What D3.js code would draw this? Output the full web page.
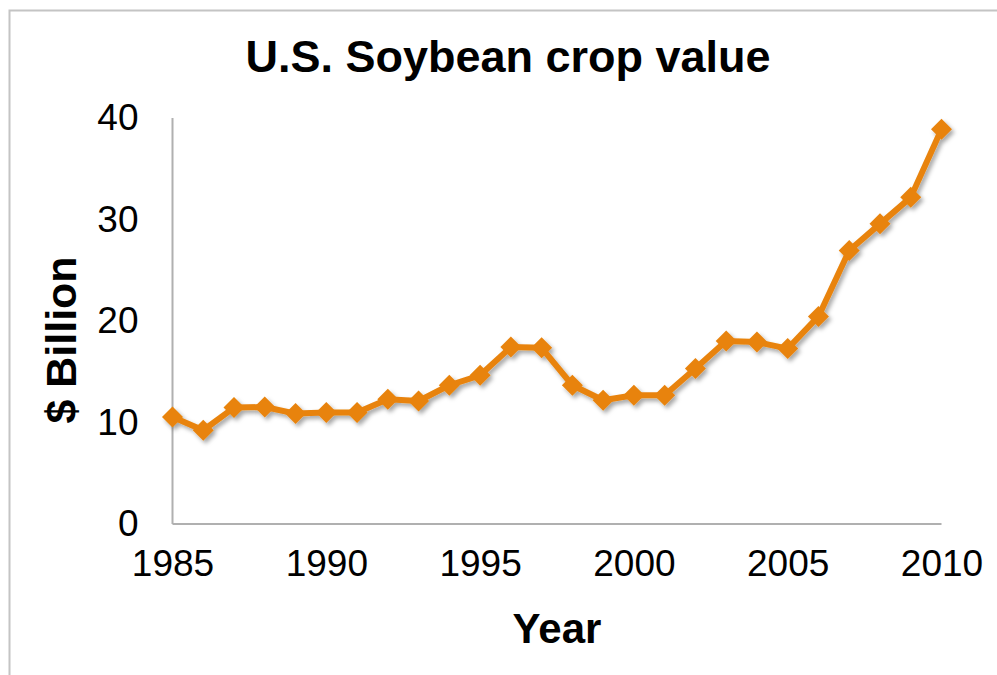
<!DOCTYPE html>
<html>
<head>
<meta charset="utf-8">
<script src="https://cdn.jsdelivr.net/npm/d3@7/dist/d3.min.js"></script>
<style>
  html, body { margin: 0; padding: 0; background: #fff; }
  svg { display: block; }
  text { font-family: "Liberation Sans", Arial, Helvetica, sans-serif; fill: #000; }
</style>
</head>
<body>
<svg id="chart" width="997" height="675"></svg>
<script>
// Soybean crop value, billions of dollars, by year
const years = [1985, 1986, 1987, 1988, 1989, 1990, 1991, 1992, 1993, 1994, 1995, 1996, 1997,
               1998, 1999, 2000, 2001, 2002, 2003, 2004, 2005, 2006, 2007, 2008, 2009, 2010];
const values = [10.55, 9.24, 11.47, 11.53, 10.88, 10.98, 10.98, 12.29, 12.12, 13.67, 14.65, 17.43, 17.36,
                13.67, 12.19, 12.68, 12.68, 15.31, 18.02, 17.92, 17.28, 20.45, 26.94, 29.57, 32.18, 38.9];
const xTicks = [1985, 1990, 1995, 2000, 2005, 2010];
const yTicks = [0, 10, 20, 30, 40];

const svg = d3.select("#chart");
const orange = "#E8830B";

// outer frame (top and left edges visible)
svg.append("path")
  .attr("d", "M9.5,675 L9.5,10.5 L997,10.5")
  .attr("fill", "none")
  .attr("stroke", "#c4c4c4")
  .attr("stroke-width", 2);

const x = d3.scaleLinear().domain([1985, 2010]).range([172.5, 941.5]);
const y = d3.scaleLinear().domain([0, 40]).range([524, 118]);

// drop shadow for the series
const defs = svg.append("defs");
const f = defs.append("filter").attr("id", "shadow")
  .attr("x", "-20%").attr("y", "-20%").attr("width", "140%").attr("height", "140%");
f.append("feDropShadow")
  .attr("dx", 2.5).attr("dy", 3).attr("stdDeviation", 2)
  .attr("flood-color", "#000").attr("flood-opacity", 0.35);

// axes
const xAxis = d3.axisBottom(x).tickValues(xTicks).tickFormat(d3.format("d")).tickSize(0).tickPadding(26);
const gx = svg.append("g").attr("transform", `translate(0,${y(0)})`).call(xAxis);
gx.select(".domain").attr("stroke", "#b0b0b0").attr("stroke-width", 2).attr("d", `M${x(1985)},0H${x(2010)}`);
gx.selectAll("text").attr("font-size", 37).attr("fill", "#000")
  .attr("font-family", "'Liberation Sans', Arial, sans-serif");

const yAxis = d3.axisLeft(y).tickValues(yTicks).tickSize(0).tickPadding(34);
const gy = svg.append("g").attr("transform", `translate(${x(1985)},0)`).call(yAxis);
gy.select(".domain").attr("stroke", "#b0b0b0").attr("stroke-width", 2).attr("d", `M0,${y(40)}V${y(0)}`);
gy.selectAll("text").attr("font-size", 37).attr("fill", "#000")
  .attr("font-family", "'Liberation Sans', Arial, sans-serif");

// series line and diamond markers
const data = years.map((yr, i) => ({ yr, v: values[i] }));
const series = svg.append("g").attr("filter", "url(#shadow)");
series.append("path")
  .datum(data)
  .attr("fill", "none")
  .attr("stroke", orange)
  .attr("stroke-width", 6)
  .attr("stroke-linejoin", "round")
  .attr("d", d3.line().x(d => x(d.yr)).y(d => y(d.v)));
const r = 10.5;
series.selectAll("path.marker")
  .data(data)
  .join("path")
  .attr("class", "marker")
  .attr("fill", orange)
  .attr("d", d => {
    const cx = x(d.yr), cy = y(d.v);
    return `M${cx},${cy - r}L${cx + r},${cy}L${cx},${cy + r}L${cx - r},${cy}Z`;
  });

// titles
svg.append("text")
  .attr("x", 508).attr("y", 72)
  .attr("text-anchor", "middle")
  .attr("font-size", 45).attr("font-weight", "bold")
  .text("U.S. Soybean crop value");

svg.append("text")
  .attr("x", 557).attr("y", 643)
  .attr("text-anchor", "middle")
  .attr("font-size", 42).attr("font-weight", "bold")
  .text("Year");

svg.append("text")
  .attr("transform", "translate(76,340) rotate(-90)")
  .attr("text-anchor", "middle")
  .attr("font-size", 43).attr("font-weight", "bold")
  .text("$ Billion");
</script>
</body>
</html>
